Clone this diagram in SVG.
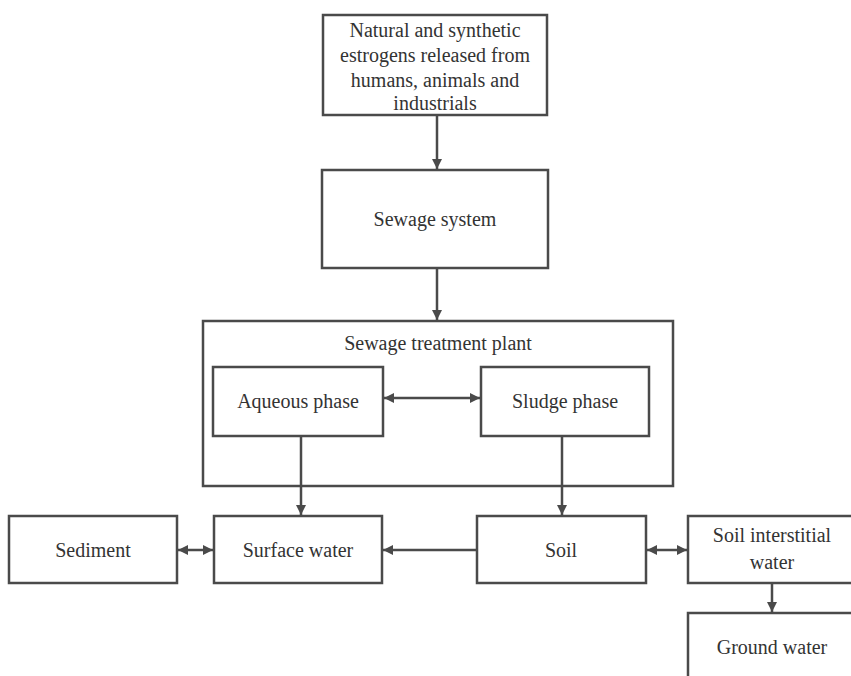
<svg xmlns="http://www.w3.org/2000/svg" width="851" height="676" viewBox="0 0 851 676">
<defs>
<style>
.box{fill:#fff;stroke:#4a4a4a;stroke-width:2.5}
.t{font-family:"Liberation Serif","Times New Roman",serif;font-size:20px;fill:#333;text-anchor:middle}
.c{fill:none;stroke:#4a4a4a;stroke-width:2.5}
</style>
<marker id="ah" viewBox="0 0 10 10" refX="10" refY="5" markerWidth="4" markerHeight="4" orient="auto-start-reverse" markerUnits="strokeWidth">
<path d="M0,0 L10,5 L0,10 z" fill="#4a4a4a"/>
</marker>
</defs>
<rect width="851" height="676" fill="#fff"/>
<g id="source">
<rect class="box" x="323" y="15" width="224" height="100"/>
<text class="t" x="435" y="37">Natural and synthetic</text>
<text class="t" x="435" y="62">estrogens released from</text>
<text class="t" x="435" y="87">humans, animals and</text>
<text class="t" x="435" y="110">industrials</text>
</g>
<g id="sewage-system">
<rect class="box" x="322" y="170" width="226" height="98"/>
<text class="t" x="435" y="226">Sewage system</text>
</g>
<g id="stp">
<rect class="box" x="203" y="321" width="470" height="165"/>
<text class="t" x="438" y="350">Sewage treatment plant</text>
</g>
<g id="aqueous">
<rect class="box" x="213" y="367" width="170" height="69"/>
<text class="t" x="298" y="408">Aqueous phase</text>
</g>
<g id="sludge">
<rect class="box" x="481" y="367" width="168" height="69"/>
<text class="t" x="565" y="408">Sludge phase</text>
</g>
<g id="sediment">
<rect class="box" x="9" y="516" width="168" height="67"/>
<text class="t" x="93" y="557">Sediment</text>
</g>
<g id="surface-water">
<rect class="box" x="214" y="516" width="168" height="67"/>
<text class="t" x="298" y="557">Surface water</text>
</g>
<g id="soil">
<rect class="box" x="477" y="516" width="169" height="67"/>
<text class="t" x="561" y="557">Soil</text>
</g>
<g id="soil-interstitial">
<rect class="box" x="688" y="516" width="170" height="67"/>
<text class="t" x="772" y="542">Soil interstitial</text>
<text class="t" x="772" y="569">water</text>
</g>
<g id="ground-water">
<rect class="box" x="688" y="613" width="170" height="80"/>
<text class="t" x="772" y="654">Ground water</text>
</g>
<g id="connectors">
<line class="c" x1="437" y1="116" x2="437" y2="169" marker-end="url(#ah)"/>
<line class="c" x1="437" y1="269" x2="437" y2="320" marker-end="url(#ah)"/>
<line class="c" x1="384" y1="398" x2="480" y2="398" marker-start="url(#ah)" marker-end="url(#ah)"/>
<line class="c" x1="301" y1="437" x2="301" y2="515" marker-end="url(#ah)"/>
<line class="c" x1="562" y1="437" x2="562" y2="515" marker-end="url(#ah)"/>
<line class="c" x1="178" y1="550" x2="213" y2="550" marker-start="url(#ah)" marker-end="url(#ah)"/>
<line class="c" x1="476" y1="550" x2="383" y2="550" marker-end="url(#ah)"/>
<line class="c" x1="647" y1="550" x2="687" y2="550" marker-start="url(#ah)" marker-end="url(#ah)"/>
<line class="c" x1="772" y1="584" x2="772" y2="612" marker-end="url(#ah)"/>
</g>
</svg>
